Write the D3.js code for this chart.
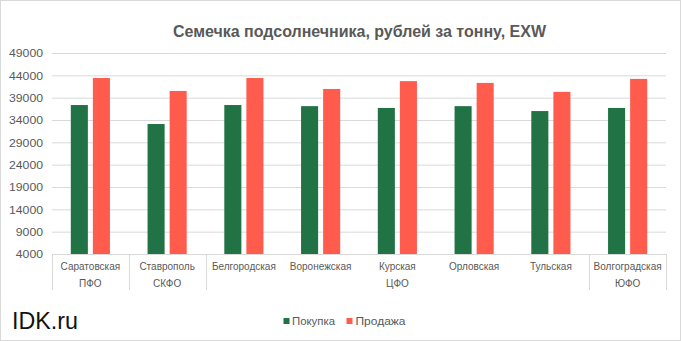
<!DOCTYPE html>
<html><head><meta charset="utf-8">
<script src="https://cdn.jsdelivr.net/npm/d3@7"></script>
<style>
body{margin:0;background:#fff;}
svg{display:block;font-family:"Liberation Sans",Arial,sans-serif;}
</style></head>
<body>
<svg id="c" width="681" height="341"></svg>
<script>
const cities = ["Саратовская","Ставрополь","Белгородская","Воронежская","Курская","Орловская","Тульская","Волгоградская"];
const districtOf = ["ПФО","СКФО","ЦФО","ЦФО","ЦФО","ЦФО","ЦФО","ЮФО"];
const seriesNames = ["Покупка","Продажа"];
const buy  = [37350, 33100, 37350, 37100, 36700, 37100, 36000, 36700];
const sell = [43400, 40500, 43400, 40950, 42700, 42300, 40300, 43200];
const yTicks = [4000, 9000, 14000, 19000, 24000, 29000, 34000, 39000, 44000, 49000];
const colors = ["#217346", "#ff5c4d"];

const svg = d3.select("#c");
const W = 681, H = 341;
const L = 52, R = 666, T = 53, B = 254;
const grey = "#595959", gridC = "#d9d9d9";

svg.append("rect").attr("x",0.5).attr("y",0.5).attr("width",W-1).attr("height",H-1)
  .attr("fill","#fff").attr("stroke",gridC);

const y = d3.scaleLinear().domain([4000, 49000]).range([B, T]);
const x0 = d3.scaleBand().domain(cities).range([L, R]).paddingInner(0.49).paddingOuter(0.245);
const x1 = d3.scaleBand().domain(seriesNames).range([0, x0.bandwidth()]).paddingInner(0.227);

// title
svg.append("text").attr("x",173).attr("y",36.5).attr("text-anchor","start")
  .attr("font-weight","bold").attr("font-size",16).attr("fill",grey)
  .attr("textLength",373).attr("lengthAdjust","spacingAndGlyphs")
  .text("Семечка подсолнечника, рублей за тонну, EXW");

// y axis with gridlines
const yAxis = d3.axisLeft(y).tickValues(yTicks).tickSize(-(R-L)).tickFormat(d3.format("d"));
const gy = svg.append("g").attr("transform",`translate(${L},0)`).call(yAxis);
gy.select(".domain").remove();
gy.selectAll(".tick line").attr("stroke",gridC).attr("stroke-width",1);
gy.selectAll(".tick text").attr("x",-43).attr("text-anchor","start").attr("fill",grey).attr("font-size",11.5)
  .attr("font-family","Liberation Sans, Arial, sans-serif")
  .attr("textLength",d=>String(d).length*6.8).attr("lengthAdjust","spacingAndGlyphs")
  .attr("x", d=>-9-String(d).length*6.8);

// bars
const data = cities.map((c,i)=>({city:c, vals:[buy[i], sell[i]]}));
const g = svg.append("g").selectAll("g").data(data).join("g")
  .attr("transform", d=>`translate(${x0(d.city)},0)`);
g.selectAll("rect").data(d=>d.vals.map((v,j)=>({s:seriesNames[j], v, j}))).join("rect")
  .attr("x", d=>x1(d.s)).attr("width", x1.bandwidth())
  .attr("y", d=>y(d.v)).attr("height", d=>y(4000)-y(d.v))
  .attr("fill", d=>colors[d.j]);

// category axis (multi-level)
const step = x0.step();
svg.append("line").attr("x1",L).attr("x2",R).attr("y1",B+0.5).attr("y2",B+0.5).attr("stroke",gridC);
svg.append("g").selectAll("text").data(cities).join("text")
  .attr("x", d=>x0(d)+x0.bandwidth()/2).attr("y",269.5).attr("text-anchor","middle")
  .attr("font-size",10).attr("fill",grey).text(d=>d);

// district spans
const spans = [];
districtOf.forEach((d,i)=>{
  if (spans.length && spans[spans.length-1].name===d) spans[spans.length-1].to=i;
  else spans.push({name:d, from:i, to:i});
});
const edge = i => L + i*step;
const sepXs = [edge(0)].concat(spans.map(s=>edge(s.to+1)));
svg.append("g").selectAll("line").data(sepXs).join("line")
  .attr("x1",d=>Math.round(d)+0.5).attr("x2",d=>Math.round(d)+0.5).attr("y1",B).attr("y2",290)
  .attr("stroke",gridC);
svg.append("g").selectAll("text").data(spans).join("text")
  .attr("x", s=>(edge(s.from)+edge(s.to+1))/2).attr("y",286.5).attr("text-anchor","middle")
  .attr("font-size",10).attr("fill",grey).text(s=>s.name);

// legend
const leg = [{n:seriesNames[0], x:283.5, tx:292, w:43},{n:seriesNames[1], x:346.5, tx:355.5, w:50}];
const lg = svg.append("g");
leg.forEach((l,i)=>{
  lg.append("rect").attr("x",l.x).attr("y",318).attr("width",6).attr("height",6).attr("fill",colors[i]);
  lg.append("text").attr("x",l.tx).attr("y",324.5).attr("font-size",10.5).attr("fill",grey)
    .attr("textLength",l.w).attr("lengthAdjust","spacingAndGlyphs").text(l.n);
});

// watermark
svg.append("text").attr("x",12).attr("y",328.5).attr("font-size",24.5).attr("fill","#111")
  .attr("textLength",66).attr("lengthAdjust","spacingAndGlyphs").text("IDK.ru");
</script>
</body></html>
